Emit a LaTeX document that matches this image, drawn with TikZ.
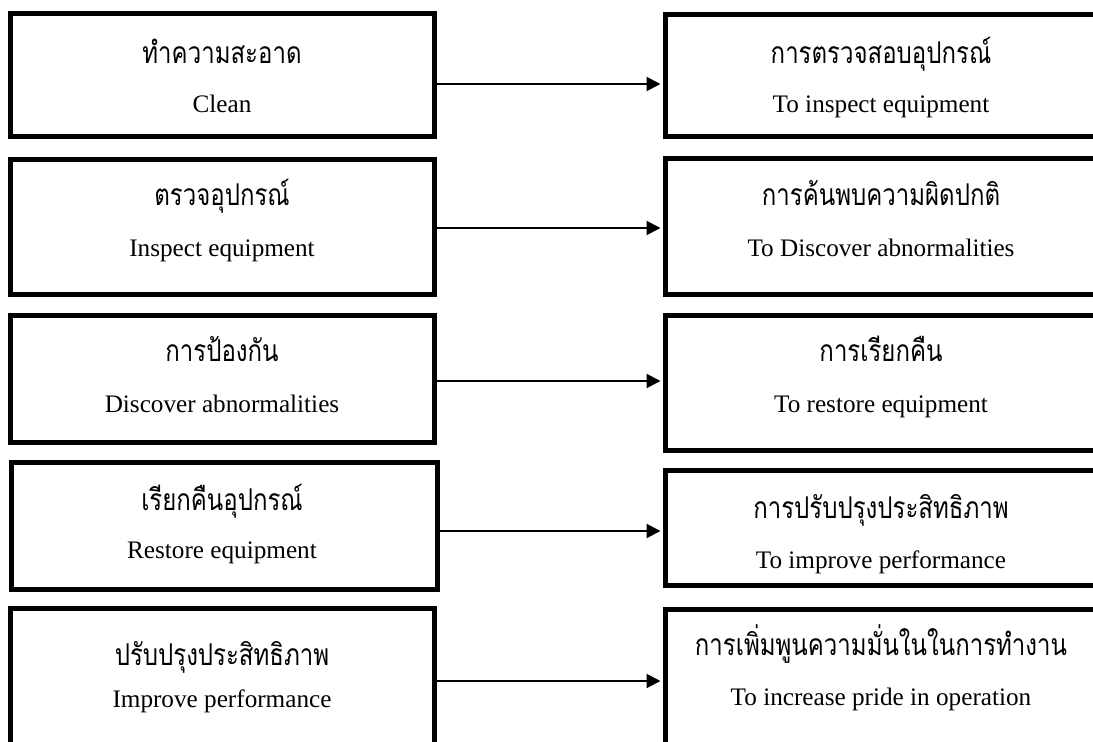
\documentclass[tikz,border=0pt]{standalone}
\usepackage{fontspec}
\setmainfont{Liberation Serif}
\newfontfamily\thaifont[Script=Thai,FakeStretch=0.8]{Loma}
\usetikzlibrary{arrows.meta}

\tikzset{
  stepbox/.style={draw,line width=5pt,inner sep=0pt},
  link/.style={line width=2pt,shorten >=2.5pt,-{Triangle[length=14pt,width=14pt]}},
  thtext/.style={anchor=base,inner sep=0pt,font=\thaifont\fontsize{30}{34}\selectfont},
  entext/.style={anchor=base,inner sep=0pt,font=\fontsize{25.2}{30}\selectfont},
}

\begin{document}
\begin{tikzpicture}[x=1pt,y=-1pt]
        \useasboundingbox (0,0) rectangle (1093,742);
        \clip (0,0) rectangle (1093,742);
        % left column
        \node[stepbox,minimum width=424.5pt,minimum height=123pt] (l1) at (222.25,75) {};
        \node[stepbox,minimum width=424.5pt,minimum height=135pt] (l2) at (222.25,226.5) {};
        \node[stepbox,minimum width=424.5pt,minimum height=127pt] (l3) at (222.25,378.5) {};
        \node[stepbox,minimum width=425.5pt,minimum height=127pt] (l4) at (224.25,525.5) {};
        \node[stepbox,minimum width=424.5pt,minimum height=272pt] (l5) at (222.25,744) {};
        % right column
        \node[stepbox,minimum width=431pt,minimum height=122pt] (r1) at (881,75) {};
        \node[stepbox,minimum width=431pt,minimum height=135.5pt] (r2) at (881,226.25) {};
        \node[stepbox,minimum width=431pt,minimum height=135pt] (r3) at (881,382.5) {};
        \node[stepbox,minimum width=431pt,minimum height=115pt] (r4) at (881,527.5) {};
        \node[stepbox,minimum width=431pt,minimum height=271pt] (r5) at (881,744.5) {};
        % texts
        \foreach \i/\yt/\ye/\th/\en in {1/63/112/ทำความสะอาด/Clean,
                2/205/256/ตรวจอุปกรณ์/Inspect equipment,
                3/361/412/การป้องกัน/Discover abnormalities,
                4/510/558/เรียกคืนอุปกรณ์/Restore equipment,
                5/665/707/ปรับปรุงประสิทธิภาพ/Improve performance}{
            \node[thtext] (lth\i) at (222,\yt) {\th};
            \node[entext] (len\i) at (222,\ye) {\en};
        }
        \foreach \i/\yt/\ye/\th/\en in {1/63/112/การตรวจสอบอุปกรณ์/To inspect equipment,
                2/205/256/การค้นพบความผิดปกติ/To Discover abnormalities,
                3/361/412/การเรียกคืน/To restore equipment,
                4/518/568/การปรับปรุงประสิทธิภาพ/To improve performance,
                5/655/705/การเพิ่มพูนความมั่นในในการทำงาน/To increase pride in operation}{
            \node[thtext] (rth\i) at (881,\yt) {\th};
            \node[entext] (ren\i) at (881,\ye) {\en};
        }
        % arrows
        \foreach \i/\y in {1/84,2/228,3/381,4/531,5/681}{
            \draw[link] (l\i.east |- 0,\y) -- (r\i.west |- 0,\y);
        }
    \end{tikzpicture}
\end{document}
